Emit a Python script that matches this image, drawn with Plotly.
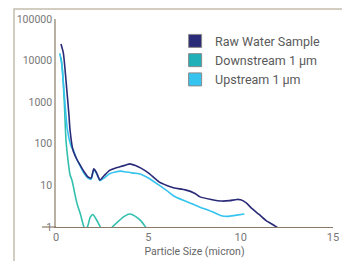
import plotly.graph_objects as go

# Data
raw_x = [0.27, 0.4, 0.55, 0.7, 0.76, 0.92, 1.1, 1.3, 1.5, 1.73, 1.9, 2.05, 2.2, 2.38, 2.6, 2.9, 3.2, 3.46, 3.8, 4.0, 4.3, 4.6, 5.0, 5.6, 6.0, 6.4, 7.0, 7.5, 7.8, 8.4, 9.0, 9.4, 9.8, 10.0, 10.3, 10.6, 11.0, 11.4, 11.8, 12.1]
raw_y = [25000, 15000, 3000, 500, 215, 70, 45, 31, 22, 16, 15, 25, 20, 13.5, 17, 23, 26, 28, 31, 33, 30, 26, 20, 12, 10, 8.7, 7.8, 6.5, 5.3, 4.6, 4.2, 4.3, 4.6, 4.5, 3.8, 2.8, 2.0, 1.4, 1.1, 0.9]

up_x = [0.2, 0.3, 0.45, 0.6, 0.75, 0.86, 0.95, 1.1, 1.3, 1.5, 1.73, 1.9, 2.05, 2.2, 2.38, 2.6, 2.9, 3.2, 3.5, 3.8, 4.1, 4.5, 5.0, 5.6, 6.0, 6.4, 7.0, 7.8, 8.4, 8.9, 9.3, 9.7, 10.2]
up_y = [15000, 9000, 1500, 250, 110, 80, 70, 45, 30, 20, 15, 14, 24, 19, 13, 15, 19, 21, 22, 21, 20, 19, 15, 10, 7.5, 5.5, 4.2, 3.0, 2.4, 1.9, 1.8, 1.9, 2.05]

down_x = [0.27, 0.35, 0.45, 0.54, 0.65, 0.76, 0.86, 0.95, 1.03, 1.15, 1.3, 1.46, 1.55, 1.7, 1.85, 2.0, 2.15, 2.4, 2.7, 3.05, 3.4, 3.7, 4.0, 4.3, 4.6, 4.85, 5.1]
down_y = [12000, 6000, 1000, 123, 40, 18, 13.5, 9, 5.9, 3.5, 2.2, 1.2, 0.9, 1.0, 1.7, 2.0, 1.6, 1.0, 0.5, 1.0, 1.4, 1.8, 2.05, 1.8, 1.4, 1.0, 0.7]

series_names = ["Raw Water Sample", "Downstream 1 µm", "Upstream 1 µm"]
series_colors = ["#2a2b78", "#1fb0b8", "#35c3ef"]
line_colors = ["#2a2b78", "#33bfae", "#35c3ef"]

y_tickvals = [1, 10, 100, 1000, 10000, 100000]
y_ticktext = ["1", "10", "100", "1000", "10000", "100000"]
x_tickvals = [0, 5, 10, 15]

fig = go.Figure()

data = [(raw_x, raw_y), (down_x, down_y), (up_x, up_y)]
# draw order: downstream, upstream, raw on top
for i in [1, 2, 0]:
    xs, ys = data[i]
    fig.add_trace(go.Scatter(x=xs, y=ys, mode="lines", showlegend=False,
                             line=dict(color=line_colors[i], width=1.6, shape="spline", smoothing=0.6),
                             hoverinfo="skip"))

for i in range(3):
    fig.add_trace(go.Scatter(x=[None], y=[None], mode="markers", name=series_names[i],
                             marker=dict(symbol="square", size=13, color=series_colors[i],
                                         line=dict(color="#8a8a8a", width=1))))

AXC = "#8b7866"
# page body has an 8px default margin; figure is sized to fill the rest of the window
fig.update_layout(
    width=342, height=253,
    margin=dict(l=48, r=17, t=11, b=34, autoexpand=False),
    paper_bgcolor="white", plot_bgcolor="white",
    font=dict(family="Roboto, sans-serif", color="#777777"),
    showlegend=True,
    legend=dict(x=0.43, y=0.965, xanchor="left", yanchor="top",
                font=dict(size=12.5, color="#5a5a5a"), bgcolor="rgba(0,0,0,0)",
                itemsizing="trace", tracegroupgap=0),
    xaxis=dict(range=[0, 15], tickvals=x_tickvals, showgrid=False, zeroline=False,
               showline=True, linecolor=AXC, linewidth=1.2, ticks="", automargin=False,
               tickfont=dict(size=11, color="#777777"),
               title=dict(text="Particle Size (micron)", font=dict(size=10.5, color="#666666"), standoff=4)),
    yaxis=dict(type="log", range=[0, 5], tickvals=y_tickvals, ticktext=y_ticktext,
               showgrid=False, zeroline=False, showline=True, linecolor="#b8b0a2", automargin=False,
               linewidth=1.5, ticks="", tickfont=dict(size=10.5, color="#777777")),
    shapes=[
        dict(type="rect", xref="paper", yref="paper",
             x0=(14 - 56) / 277, x1=(343 - 56) / 277, y0=-0.25, y1=1 + 10 / 208,
             line=dict(color="#c4bdac", width=1.5), fillcolor="rgba(0,0,0,0)", layer="above"),
        dict(type="line", xref="paper", yref="paper",
             x0=(42 - 56) / 277, x1=0, y0=0, y1=0, line=dict(color=AXC, width=1.2)),
    ],
)

fig.write_html("out.html")
